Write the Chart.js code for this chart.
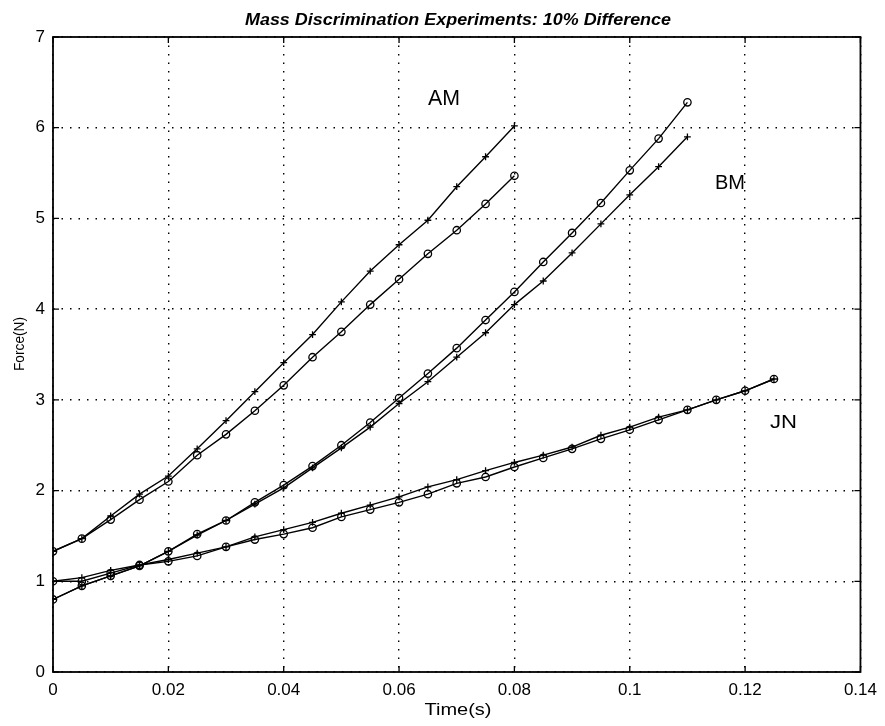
<!DOCTYPE html>
<html>
<head>
<meta charset="utf-8">
<title>Mass Discrimination Experiments: 10% Difference</title>
<script src="https://cdn.jsdelivr.net/npm/chart.js@4.4.1/dist/chart.umd.min.js"></script>
<style>
  html, body { margin: 0; padding: 0; background: #fff; }
  #wrap { width: 885px; height: 726px; }
</style>
</head>
<body>
<div id="wrap"><canvas id="chart" width="885" height="726"></canvas></div>
<script>
// sample times (s), every 5 ms
const timeSteps = [0, 0.005, 0.01, 0.015, 0.02, 0.025, 0.03, 0.035, 0.04, 0.045,
  0.05, 0.055, 0.06, 0.065, 0.07, 0.075, 0.08, 0.085, 0.09, 0.095,
  0.1, 0.105, 0.11, 0.115, 0.12, 0.125];

// force (N)
const amPlus   = [1.33, 1.47, 1.72, 1.96, 2.16, 2.46, 2.77, 3.09, 3.41, 3.72, 4.08, 4.42, 4.71, 4.98, 5.35, 5.68, 6.02];
const amCircle = [1.33, 1.47, 1.68, 1.90, 2.10, 2.39, 2.62, 2.88, 3.16, 3.47, 3.75, 4.05, 4.33, 4.61, 4.87, 5.16, 5.47];

const bmPlus   = [0.80, 0.95, 1.06, 1.17, 1.33, 1.51, 1.67, 1.85, 2.03, 2.25, 2.47, 2.70, 2.96, 3.20, 3.47, 3.74,
  4.05, 4.31, 4.62, 4.94, 5.26, 5.57, 5.90];
const bmCircle = [0.80, 0.95, 1.06, 1.17, 1.33, 1.52, 1.67, 1.87, 2.06, 2.27, 2.50, 2.75, 3.02, 3.29, 3.57, 3.88,
  4.19, 4.52, 4.84, 5.17, 5.53, 5.88, 6.28];

const jnPlus   = [1.00, 1.04, 1.12, 1.18, 1.24, 1.31, 1.38, 1.49, 1.57, 1.65, 1.75, 1.84, 1.93, 2.04, 2.12, 2.22,
  2.31, 2.39, 2.48, 2.61, 2.70, 2.81, 2.89, 3.00, 3.10, 3.23];
const jnCircle = [1.00, 1.00, 1.09, 1.18, 1.22, 1.28, 1.38, 1.46, 1.52, 1.59, 1.71, 1.79, 1.87, 1.96, 2.08, 2.15,
  2.26, 2.36, 2.46, 2.57, 2.67, 2.78, 2.89, 3.00, 3.10, 3.23];

// axis ticks
const xTickValues = [0, 0.02, 0.04, 0.06, 0.08, 0.1, 0.12, 0.14];
const xTickLabels = ["0", "0.02", "0.04", "0.06", "0.08", "0.1", "0.12", "0.14"];
const yTickValues = [0, 1, 2, 3, 4, 5, 6, 7];
const yTickLabels = ["0", "1", "2", "3", "4", "5", "6", "7"];

// curve labels placed next to each pair of curves
const curveNames = ["AM", "BM", "JN"];

const FONT = "'Liberation Sans', Arial, Helvetica, sans-serif";

function toPoints(values) {
  return values.map((v, i) => ({ x: timeSteps[i], y: v }));
}

function series(label, values, marker) {
  return {
    label: label,
    data: toPoints(values),
    borderColor: "#000",
    borderWidth: 1.4,
    backgroundColor: "rgba(0,0,0,0)",
    pointStyle: marker,
    pointRadius: marker === "circle" ? 3.7 : 3.4,
    pointBorderWidth: 1.3,
    pointBorderColor: "#000",
    pointBackgroundColor: "rgba(0,0,0,0)",
    tension: 0,
    fill: false,
  };
}

// draw text squeezed/stretched to a given width (the scan is a bit wide)
function fitText(ctx, text, font, cx, baseline, width, angle) {
  ctx.save();
  ctx.font = font;
  const w = ctx.measureText(text).width;
  ctx.translate(cx, baseline);
  if (angle) ctx.rotate(angle);
  ctx.scale(width / w, 1);
  ctx.textAlign = "center";
  ctx.textBaseline = "alphabetic";
  ctx.fillStyle = "#000";
  ctx.fillText(text, 0, 0);
  ctx.restore();
}

const matlabFrame = {
  id: "matlabFrame",
  afterDraw(chart) {
    const ctx = chart.ctx;
    const a = chart.chartArea;
    const xs = chart.scales.x;
    const ys = chart.scales.y;

    // box
    ctx.save();
    ctx.strokeStyle = "#000";
    ctx.lineWidth = 1.8;
    ctx.strokeRect(a.left, a.top, a.right - a.left, a.bottom - a.top);

    // inward tick marks on all four sides
    ctx.lineWidth = 1.3;
    ctx.beginPath();
    xTickValues.forEach((v) => {
      const px = xs.getPixelForValue(v);
      ctx.moveTo(px, a.bottom); ctx.lineTo(px, a.bottom - 6);
      ctx.moveTo(px, a.top); ctx.lineTo(px, a.top + 6);
    });
    yTickValues.forEach((v) => {
      const py = ys.getPixelForValue(v);
      ctx.moveTo(a.left, py); ctx.lineTo(a.left + 6, py);
      ctx.moveTo(a.right, py); ctx.lineTo(a.right - 6, py);
    });
    ctx.stroke();
    ctx.restore();

    // title and axis labels
    fitText(ctx, "Mass Discrimination Experiments: 10% Difference",
      "italic bold 17px " + FONT, 458, 25, 426);
    fitText(ctx, "Time(s)", "16px " + FONT, 458, 715, 67);
    fitText(ctx, "Force(N)", "14px " + FONT, 24, 344, 54, -Math.PI / 2);

    // curve names
    fitText(ctx, curveNames[0], "22px " + FONT, 444, 105, 32);
    fitText(ctx, curveNames[1], "20px " + FONT, 730, 189, 30);
    fitText(ctx, curveNames[2], "18px " + FONT, 783.5, 428, 27);
  },
};

new Chart(document.getElementById("chart"), {
  type: "scatter",
  data: {
    datasets: [
      series("AM +", amPlus, "cross"),
      series("AM o", amCircle, "circle"),
      series("BM +", bmPlus, "cross"),
      series("BM o", bmCircle, "circle"),
      series("JN +", jnPlus, "cross"),
      series("JN o", jnCircle, "circle"),
    ],
  },
  options: {
    responsive: false,
    animation: false,
    devicePixelRatio: 1,
    showLine: true,
    layout: { padding: { top: 37, right: 22, left: 0, bottom: 0 } },
    plugins: {
      legend: { display: false },
      title: { display: false },
      tooltip: { enabled: false },
    },
    scales: {
      x: {
        type: "linear",
        min: xTickValues[0],
        max: xTickValues[xTickValues.length - 1],
        afterBuildTicks: (scale) => {
          scale.ticks = xTickValues.map((v) => ({ value: v }));
        },
        afterFit: (scale) => { scale.height = 54; },
        grid: { color: "#000", lineWidth: 1.4, drawTicks: false },
        border: { display: false, dash: [1.5, 7] },
        ticks: {
          color: "#000",
          font: { family: FONT, size: 17 },
          padding: 8,
          maxRotation: 0,
          callback: (v, i) => xTickLabels[i],
        },
      },
      y: {
        type: "linear",
        min: yTickValues[0],
        max: yTickValues[yTickValues.length - 1],
        afterBuildTicks: (scale) => {
          scale.ticks = yTickValues.map((v) => ({ value: v }));
        },
        afterFit: (scale) => { scale.width = 53; },
        grid: { color: "#000", lineWidth: 1.4, drawTicks: false },
        border: { display: false, dash: [1.5, 7] },
        ticks: {
          color: "#000",
          font: { family: FONT, size: 17 },
          padding: 8,
          callback: (v, i) => yTickLabels[i],
        },
      },
    },
  },
  plugins: [matlabFrame],
});
</script>
</body>
</html>
